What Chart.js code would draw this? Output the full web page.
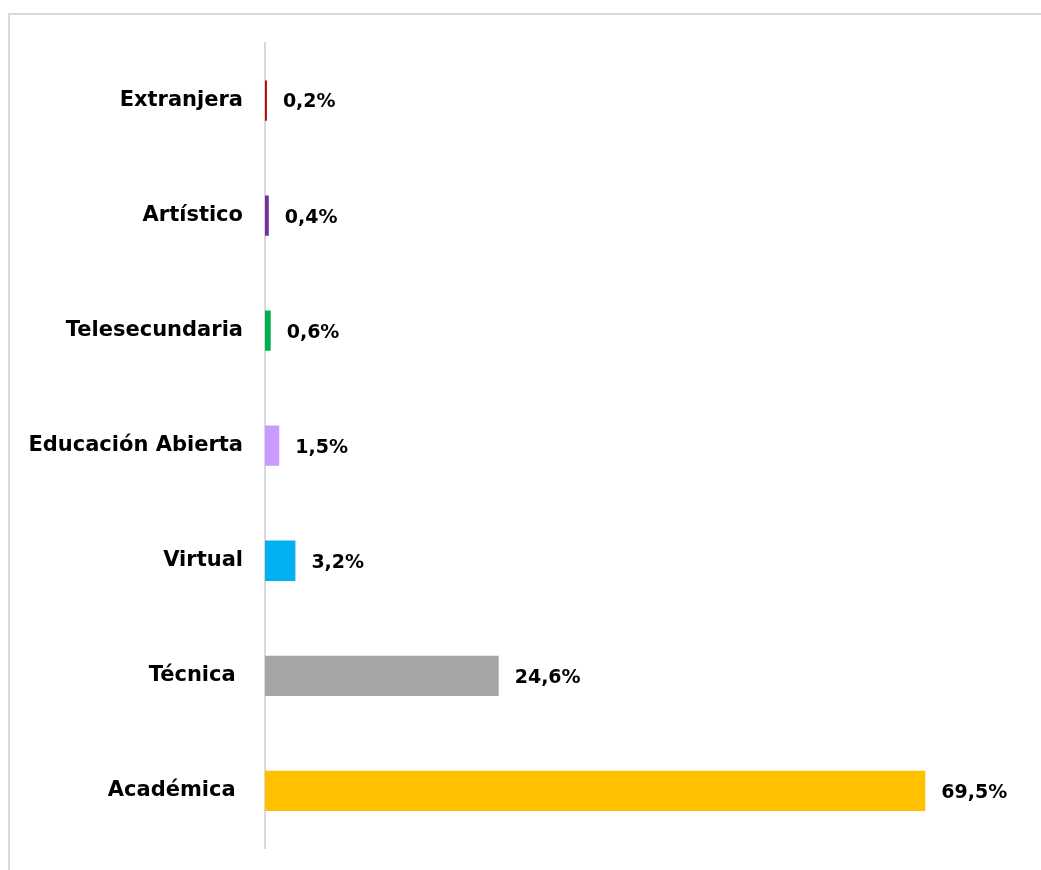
<!DOCTYPE html>
<html>
<head>
<meta charset="utf-8">
<script src="https://cdn.jsdelivr.net/npm/chart.js@4/dist/chart.umd.min.js"></script>
<style>
    body { margin: 0; background: #fff; overflow: hidden; }
    #frame {
        position: absolute;
        left: 8px;
        top: 13px;
        width: 1100px;
        height: 900px;
        border-left: 2px solid #d9d9d9;
        border-top: 2px solid #d9d9d9;
    }
    #ModalidadChart { position: absolute; left: 0; top: 0; }
</style>
</head>
<body>
<div id="frame"></div>
<canvas id="ModalidadChart" width="1041" height="883"></canvas>
<script>
// data
var categories = ["Extranjera", "Artístico", "Telesecundaria", "Educación Abierta", "Virtual", "Técnica ", "Académica "];
var percentages = [0.2, 0.4, 0.6, 1.5, 3.2, 24.6, 69.5];
var barColors = ["#C00000", "#7030A0", "#00B050", "#CC99FF", "#00B0F0", "#A5A5A5", "#FFC000"];

var fontFamily = "'DejaVu Sans'";
var labelFont = { family: fontFamily, size: 21, weight: "bold" };

// draws the value at the end of each bar
var valueLabels = {
    id: "valueLabels",
    afterDatasetsDraw: function (chart) {
        var ctx = chart.ctx;
        var meta = chart.getDatasetMeta(0);
        ctx.save();
        ctx.font = "bold 19px " + fontFamily;
        ctx.fillStyle = "#000";
        ctx.textAlign = "left";
        ctx.textBaseline = "middle";
        meta.data.forEach(function (bar, i) {
            var txt = percentages[i].toFixed(1).replace(".", ",") + "%";
            ctx.fillText(txt, bar.x + 16, bar.y + 2);
        });
        ctx.restore();
    }
};

var modalidadChart = new Chart(document.getElementById("ModalidadChart"), {
    type: "bar",
    data: {
        labels: categories,
        datasets: [{
            data: percentages,
            backgroundColor: barColors,
            borderWidth: 0,
            barPercentage: 0.7,
            categoryPercentage: 0.5
        }]
    },
    options: {
        indexAxis: "y",
        responsive: false,
        animation: false,
        layout: {
            padding: { top: 43, bottom: 0, left: 0, right: 16 }
        },
        plugins: {
            legend: { display: false },
            tooltip: { enabled: false }
        },
        scales: {
            x: {
                display: false,
                min: 0,
                max: 80
            },
            y: {
                grid: { display: false, drawTicks: false },
                border: { display: true, color: "#d9d9d9", width: 2 },
                ticks: {
                    color: "#000",
                    font: labelFont,
                    padding: 22
                },
                afterFit: function (scale) {
                    scale.width = 265;
                }
            }
        }
    },
    plugins: [valueLabels]
});
</script>
</body>
</html>
